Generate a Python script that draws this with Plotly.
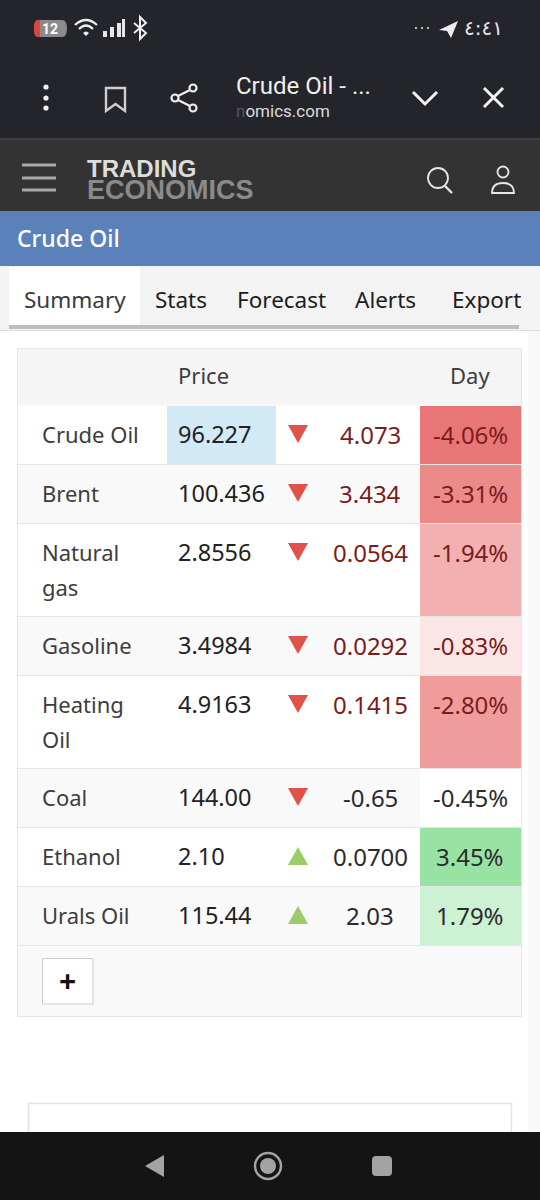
import plotly.graph_objects as go

# ---------- table data ----------
names = ["Crude Oil", "Brent", "Natural<br>gas", "Gasoline", "Heating<br>Oil", "Coal", "Ethanol", "Urals Oil"]
prices = ["96.227", "100.436", "2.8556", "3.4984", "4.9163", "144.00", "2.10", "115.44"]
changes = ["4.073", "3.434", "0.0564", "0.0292", "0.1415", "-0.65", "0.0700", "2.03"]
day_pct = ["-4.06%", "-3.31%", "-1.94%", "-0.83%", "-2.80%", "-0.45%", "3.45%", "1.79%"]
direction = ["down", "down", "down", "down", "down", "down", "up", "up"]
day_fill = ["#e97676", "#ec8a8a", "#f2b0b0", "#fbe6e6", "#f09c9c", "#ffffff", "#98e3a4", "#ccf2d3"]
change_col = ["#7b1c1c", "#7b1c1c", "#7b1c1c", "#7b1c1c", "#7b1c1c", "#2b2b2b", "#2b2b2b", "#2b2b2b"]
day_col = ["#7b1c1c", "#7b1c1c", "#7b1c1c", "#7b1c1c", "#7b1c1c", "#2b2b2b", "#2b2b2b", "#2b2b2b"]
row_edges = [406, 465, 524, 617, 676, 769, 828, 887, 946]
tabs = ["Summary", "Stats", "Forecast", "Alerts", "Export"]
tab_x = [24, 155, 237, 355, 452]

FONT = "Noto Sans"
shapes, ann = [], []

def rect(x0, y0, x1, y1, fill, line=None, lw=1):
    shapes.append(dict(type="rect", x0=x0, y0=y0, x1=x1, y1=y1, fillcolor=fill,
                       line=dict(color=line, width=lw) if line else dict(width=0), layer="below"))

def path(d, fill=None, line=None, lw=2):
    shapes.append(dict(type="path", path=d, fillcolor=fill or "rgba(0,0,0,0)",
                       line=dict(color=line, width=lw) if line else dict(width=0), layer="above"))

def seg(x0, y0, x1, y1, col, lw=2):
    shapes.append(dict(type="line", x0=x0, y0=y0, x1=x1, y1=y1, line=dict(color=col, width=lw), layer="above"))

def circ(cx, cy, r, fill=None, line=None, lw=2):
    shapes.append(dict(type="circle", x0=cx-r, y0=cy-r, x1=cx+r, y1=cy+r, fillcolor=fill or "rgba(0,0,0,0)",
                       line=dict(color=line, width=lw) if line else dict(width=0), layer="above"))

def text(x, y, s, size, col, anchor="left", family=FONT, weight=None):
    f = dict(family=family, size=size, color=col)
    if weight:
        f["weight"] = weight
    ann.append(dict(x=x, y=y, text=s, showarrow=False, xanchor=anchor, yanchor="middle", align=anchor,
                    font=f, borderpad=0, borderwidth=0))

# ---------- page bands ----------
rect(0, 0, 540, 138, "#24252b")
rect(0, 138, 540, 140, "#3d3e42")
rect(0, 140, 540, 211, "#333333")
rect(0, 211, 540, 266, "#5b81bb")
rect(0, 266, 540, 330, "#f3f3f3")
rect(9, 267, 140, 325, "#ffffff")
rect(9, 325, 519, 329, "#bdbdbd")
rect(0, 330, 540, 1132, "#ffffff")
rect(0, 330, 540, 331, "#dddddd")
rect(528, 331, 540, 1132, "#f8f8f8")

# ---------- status bar ----------
shapes.append(dict(type="path", path="M38,20 H62 Q67,20 67,28.5 Q67,37 62,37 H38 Q34,37 34,28.5 Q34,20 38,20 Z", fillcolor="#8b8b8b", line=dict(width=0)))
shapes.append(dict(type="path", path="M38,20 H40 V37 H38 Q34,37 34,28.5 Q34,20 38,20 Z", fillcolor="#e0423c", line=dict(width=0)))
text(50, 28.5, "<b>12</b>", 14, "#ffffff", "center", "Roboto")
path("M75,25 Q86,15 97,25", None, "#eeeeee", 2.2)
path("M79,29 Q86,22 93,29", None, "#eeeeee", 2.2)
path("M83,33 Q86,30 89,33 L86,36 Z", "#eeeeee")
for bx, by in [(103, 31), (110, 27), (117, 23)]:
    rect(bx, by, bx + 4, 37, "#e8e8e8")
rect(122, 19, 125, 37, "#e8e8e8")
path("M134,23 L146,33 L140,39 V17 L146,23 L134,33", None, "#eeeeee", 2)
for dx in (416, 422, 428):
    circ(dx, 28, 1.1, "#dddddd")
path("M439,30 L458,21 L451,38 L447,31 Z", "#eeeeee")
text(483, 28, "٤:٤١", 20, "#e6e6e6", "center", "DejaVu Sans")

# ---------- browser bar ----------
for dy in (87, 98, 108):
    circ(46, dy, 2.6, "#f0f0f0")
path("M106,88 H125 V111 L115.5,104 L106,111 Z", None, "#cfcfcf", 2.4)
circ(193, 88, 3.5, None, "#eeeeee", 2.2)
circ(175, 98, 3.5, None, "#eeeeee", 2.2)
circ(193, 108, 3.5, None, "#eeeeee", 2.2)
seg(178, 96, 190, 90, "#eeeeee", 2.2)
seg(178, 100, 190, 106, "#eeeeee", 2.2)
text(236, 86, "Crude Oil - ...", 24, "#efefef", "left", "Roboto")
text(236, 111, "<span style='color:#55565a'>n</span>omics.com", 17, "#dcdcdc", "left", "Roboto")
path("M413,92 L425,104 L437,92", None, "#f2f2f2", 3)
seg(484, 88, 503, 107, "#f2f2f2", 3)
seg(503, 88, 484, 107, "#f2f2f2", 3)

# ---------- site header ----------
for hy in (165, 178, 190):
    seg(22, hy, 56, hy, "#a8a8a8", 3)
text(87, 180,
     "<span style='font-size:24px;color:#dddddd'><b>TRADING</b></span><br>"
     "<span style='font-size:27px;color:#8a8a8a'><b>ECONOMICS</b></span>",
     17, "#8a8a8a", "left", "Liberation Sans")
circ(438, 178, 10, None, "#e6e6e6", 1.8)
seg(445, 186, 452, 193, "#e6e6e6", 2.4)
circ(503, 172, 5.5, None, "#e6e6e6", 1.8)
path("M492,193 Q492,183 503,183 Q514,183 514,193 Z", None, "#e6e6e6", 1.8)
text(17, 237.5, "Crude Oil", 23, "#ffffff", "left", FONT, 500)

# ---------- tabs ----------
for i, (t, x) in enumerate(zip(tabs, tab_x)):
    text(x, 299, t, 22.5, "#3a3a3a" if i == 0 else "#1c1c1c")

# ---------- table ----------
rect(17.5, 348.5, 521.5, 1016.5, "#f9f9f9", "#e6e6e6", 1)
rect(18, 349, 521, 405, "#f5f5f5")
text(178, 375, "Price", 22, "#3d3d3d")
text(470, 375, "Day", 22, "#3d3d3d", "center")

row_y = []
for i in range(len(names)):
    y0, y1 = row_edges[i], row_edges[i + 1] - 1
    rect(18, y0, 521, y1, "#ffffff" if i % 2 == 0 else "#f9f9f9")
    rect(420, y0, 521, y1, day_fill[i])
    rect(18, y1, 521, y1 + 1, "#e6e6e6")
    cy = y0 + 28
    row_y.append(cy)
    if "<br>" in names[i]:
        a, b = names[i].split("<br>")
        text(42, cy, a, 22, "#3d3d3d")
        text(42, cy + 35, b, 22, "#3d3d3d")
    else:
        text(42, cy, names[i], 22, "#3d3d3d")
    text(178, cy, prices[i], 23.5, "#222222")
    text(370, cy, changes[i], 24, change_col[i], "center")
    text(470, cy, day_pct[i], 24, day_col[i], "center")
rect(167, row_edges[0], 276, row_edges[1] - 1, "#d2e9f6")

# plus button
rect(42.5, 958.5, 93, 1004, "#ffffff", "#cccccc", 1)
text(67, 980, "<b>+</b>", 30, "#111111", "center")

# card below, then the nav bar over it
rect(28.5, 1103.5, 511.5, 1140, "#ffffff", "#e2e2e2", 1.5)
rect(0, 1132, 540, 1200, "#141414")
path("M164,1155 V1177 L145,1166 Z", "#a3a3a3")
circ(268, 1166, 13, None, "#a3a3a3", 2.5)
circ(268, 1166, 8, "#a3a3a3")
path("M376,1156 H388 Q392,1156 392,1160 V1172 Q392,1176 388,1176 H376 Q372,1176 372,1172 V1160 Q372,1156 376,1156 Z", "#a3a3a3")

# triangles as real filled traces, positioned from the rows
TRI_X, TRI_HW, TRI_H = 298, 10, 18
def tri_xy(kind):
    xs, ys = [], []
    for i, d in enumerate(direction):
        if d != kind:
            continue
        top = row_y[i] - 9
        xs += [TRI_X - TRI_HW, TRI_X + TRI_HW, TRI_X, TRI_X - TRI_HW, None]
        if kind == "down":
            ys += [top, top, top + TRI_H, top, None]
        else:
            ys += [top + TRI_H, top + TRI_H, top, top + TRI_H, None]
    return xs, ys

fig = go.Figure()
for kind, col in (("down", "#e0524a"), ("up", "#9ccc6a")):
    xs, ys = tri_xy(kind)
    fig.add_trace(go.Scatter(x=xs, y=ys, mode="lines", fill="toself", fillcolor=col,
                             line=dict(width=0, color=col), hoverinfo="skip"))

fig.update_layout(width=540, height=1200, margin=dict(l=0, r=0, t=0, b=0), showlegend=False,
                  paper_bgcolor="#ffffff", plot_bgcolor="rgba(0,0,0,0)", shapes=shapes, annotations=ann,
                  xaxis=dict(range=[0, 540], visible=False, fixedrange=True),
                  yaxis=dict(range=[1200, 0], visible=False, fixedrange=True))
fig.write_html("out.html", config=dict(displayModeBar=False),
               post_script="document.body.style.margin='0';document.documentElement.style.overflow='hidden';")
